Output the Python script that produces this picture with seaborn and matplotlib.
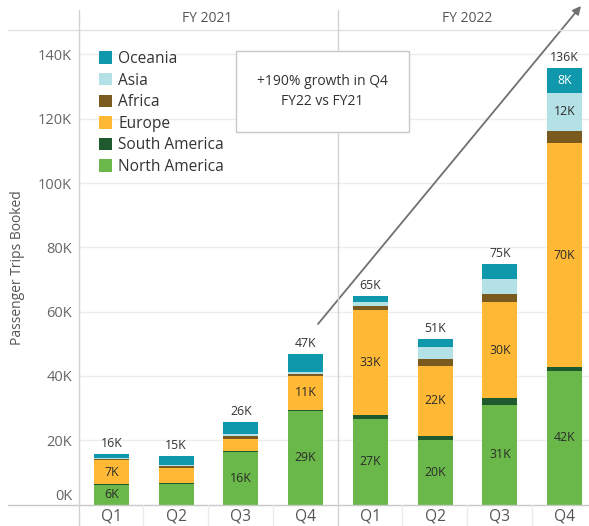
import numpy as np
import pandas as pd
import matplotlib
matplotlib.use("Agg")
import matplotlib.pyplot as plt
import seaborn as sns
from matplotlib.patches import Patch, Rectangle
from matplotlib.lines import Line2D

# ---------------- data (thousands of trips) ----------------
years = ["FY 2021", "FY 2022"]
quarters = ["Q1", "Q2", "Q3", "Q4"]
periods = ["FY21 Q1", "FY21 Q2", "FY21 Q3", "FY21 Q4",
           "FY22 Q1", "FY22 Q2", "FY22 Q3", "FY22 Q4"]

north_america = [6.0, 6.3, 16.2, 29.0, 26.7, 20.2, 31.0, 41.6]
south_america = [0.3, 0.4, 0.3, 0.3, 1.0, 1.25, 2.0, 1.1]
europe = [7.4, 4.5, 4.0, 10.8, 32.9, 21.6, 30.0, 69.8]
africa = [0.4, 0.7, 0.8, 0.6, 1.0, 2.2, 2.4, 3.7]
asia = [0.5, 0.5, 0.6, 0.6, 1.45, 3.7, 4.9, 11.9]
oceania = [1.2, 2.6, 3.7, 5.4, 1.9, 2.5, 4.6, 7.6]

regions = ["North America", "South America", "Europe", "Africa", "Asia", "Oceania"]
series = [north_america, south_america, europe, africa, asia, oceania]
colors = ["#6ab84a", "#1e5a2e", "#ffb935", "#7b5a1f", "#b4e1e6", "#0f98ab"]

# which segment values are labelled inside the bar
show_labels = {
    "North America": [1, 0, 1, 1, 1, 1, 1, 1],
    "Europe": [1, 0, 0, 1, 1, 1, 1, 1],
    "Asia": [0, 0, 0, 0, 0, 0, 0, 1],
    "Oceania": [0, 0, 0, 0, 0, 0, 0, 1],
}
label_colors = {"North America": "#2b2b2b", "Europe": "#2b2b2b",
                "Asia": "#2b2b2b", "Oceania": "#ffffff"}

annotation = "+190% growth in Q4\nFY22 vs FY21"
ylabel = "Passenger Trips Booked"

# ---------------- figure ----------------
sns.set_theme(style="white")
plt.rcParams["font.family"] = ["Open Sans", "DejaVu Sans"]

W, H = 589, 526
fig = plt.figure(figsize=(W / 100, H / 100), dpi=100)


def fx(x):
    return x / W


def fy(y):
    return 1 - y / H


ax = fig.add_axes([fx(79), fy(504.5), fx(597) - fx(79), fy(30) - fy(504.5)])

cum = np.zeros(len(periods))
cums = []
for vals in series:
    cum = cum + np.array(vals)
    cums.append(cum.copy())

# draw cumulative totals from top layer down so lower layers overdraw
for name, c, col in reversed(list(zip(regions, cums, colors))):
    d = pd.DataFrame({"period": periods, "value": c})
    sns.barplot(data=d, x="period", y="value", order=periods, color=col,
                saturation=1, width=0.54, errorbar=None, ax=ax, zorder=3,
                linewidth=0)

ymax = 147.6
ax.set_xlim(-0.5, 7.5)
ax.set_ylim(0, ymax)
for v in range(20, 141, 20):
    ax.axhline(v, color="#ededed", lw=1, zorder=0)

ax.set_yticks(range(0, 141, 20))
ax.set_yticklabels([f"{v}K" for v in range(0, 141, 20)])
ax.set_xticks(range(len(periods)))
ax.set_xticklabels(quarters * 2)
ax.tick_params(axis="y", length=0, pad=5, labelsize=10.5, labelcolor="#666666")
ax.tick_params(axis="x", length=0, pad=3, labelsize=11.2, labelcolor="#555555")
ax.set_xlabel("")
ax.set_ylabel("")
for s in ax.spines.values():
    s.set_visible(False)
ax.get_yticklabels()[0].set_va("bottom")

# segment labels
bottoms = [np.zeros(len(periods))] + cums[:-1]
for name, vals, bot in zip(regions, series, bottoms):
    if name not in show_labels:
        continue
    for i, (v, b) in enumerate(zip(vals, bot)):
        if show_labels[name][i]:
            ax.text(i, b + v / 2, f"{round(v)}K", ha="center", va="center",
                    fontsize=8.8, color=label_colors[name], zorder=5)

# totals
totals = cums[-1]
for i, t in enumerate(totals):
    ax.annotate(f"{round(t)}K", (i, t), xytext=(0, 3), textcoords="offset points",
                ha="center", va="bottom", fontsize=8.8, color="#333333")

# legend
handles = [Patch(facecolor=c, edgecolor="none") for c in colors][::-1]
leg = ax.legend(handles, regions[::-1], loc="upper left",
                bbox_to_anchor=(fx(99), fy(51)), bbox_transform=fig.transFigure,
                frameon=False, borderpad=0, borderaxespad=0, handlelength=0.85,
                handleheight=0.85, handletextpad=0.4, labelspacing=0.36,
                fontsize=11.2)
for t in leg.get_texts():
    t.set_color("#333333")

# frame lines (header, dividers)
line_kw = dict(transform=fig.transFigure, lw=1, zorder=2)
fig.add_artist(Line2D([fx(8), fx(589)], [fy(29.5), fy(29.5)], color="#e2e2e2", **line_kw))
fig.add_artist(Line2D([fx(8), fx(589)], [fy(504.5), fy(504.5)], color="#c8c8c8", **line_kw))
fig.add_artist(Line2D([fx(79), fx(79)], [fy(10), fy(526)], color="#d2d2d2", **line_kw))
fig.add_artist(Line2D([fx(338), fx(338)], [fy(10), fy(526)], color="#d2d2d2", **line_kw))
for xp in [143, 208, 273, 402, 467, 532]:
    fig.add_artist(Line2D([fx(xp), fx(xp)], [fy(504.5), fy(526)], color="#ebebeb", **line_kw))

fig.text(fx(207.5), fy(19), years[0], ha="center", va="center", fontsize=10, color="#555555")
fig.text(fx(467), fy(19), years[1], ha="center", va="center", fontsize=10, color="#555555")
fig.text(fx(18), fy(268), ylabel, rotation=90, ha="center", va="center",
         fontsize=10, color="#555555")

# annotation box
fig.add_artist(Rectangle((fx(236), fy(132)), fx(409) - fx(236), fy(51) - fy(132),
                         transform=fig.transFigure, facecolor="white",
                         edgecolor="#c8c8c8", lw=1, zorder=5))
fig.text(fx(322.5), fy(91.5), annotation, ha="center", va="center", fontsize=10,
         color="#333333", linespacing=1.45, zorder=6)

# arrow
ax.annotate("", xy=(fx(581), fy(6)), xytext=(fx(318), fy(324)),
            xycoords="figure fraction", textcoords="figure fraction",
            arrowprops=dict(arrowstyle="-|>", color="#707070", lw=1.3,
                            mutation_scale=12, shrinkA=0, shrinkB=0),
            annotation_clip=False)

fig.savefig("out.png", dpi=100)
